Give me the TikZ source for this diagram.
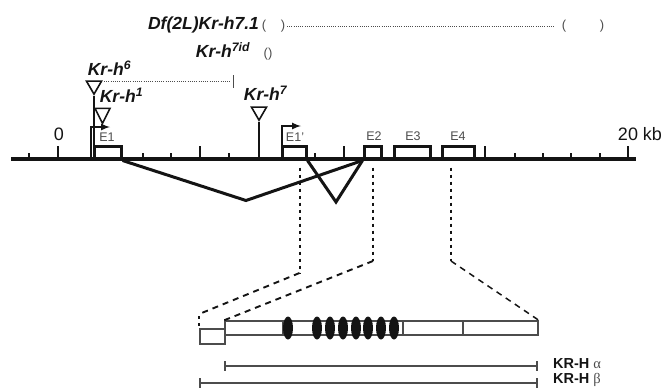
\documentclass[tikz,border=0pt]{standalone}
\usepackage{fontspec}
\setmainfont{Liberation Sans}
\newfontfamily\greekfont{Liberation Serif}
\usetikzlibrary{
    shapes.geometric,
    calc
}
\definecolor{inkblack}{gray}{0.08}
\definecolor{inkgray}{gray}{0.3}
\tikzstyle{exon} = [
    rectangle,
    draw=inkblack,
    line width=3pt,
    inner sep=0pt,
    minimum height=13pt
]
\tikzstyle{exonlabel} = [
    inner sep=0pt,
    text=inkgray,
    font=\fontsize{12.5}{13}\selectfont
]
\tikzstyle{allele} = [
    inner sep=0pt,
    text=inkblack,
    font=\fontsize{17.5}{18}\selectfont\bfseries\itshape
]
\tikzstyle{insertion} = [
    isosceles triangle,
    isosceles triangle stretches,
    shape border rotate=270,
    draw=inkblack,
    line width=1.6pt,
    inner sep=0pt,
    minimum width=15pt,
    minimum height=13pt
]
\tikzstyle{paren} = [
    inner sep=0pt,
    text=inkgray,
    font=\fontsize{13}{14}\selectfont
]
\tikzstyle{scalelabel} = [
    inner sep=0pt,
    text=inkblack,
    font=\fontsize{18}{19}\selectfont
]
\tikzstyle{splice} = [
    line width=3pt,
    draw=inkblack,
    line join=miter
]
\tikzstyle{zoomline} = [
    line width=2pt,
    draw=inkblack,
    dash pattern=on 3pt off 4pt
]
\tikzstyle{zoomslant} = [
    line width=1.9pt,
    draw=inkblack,
    dash pattern=on 6pt off 5pt
]
\tikzstyle{deletion} = [
    line width=1pt,
    draw=inkgray,
    dash pattern=on 1pt off 1.2pt
]
\tikzstyle{proteinbox} = [
    rectangle,
    draw=inkgray,
    fill=white,
    line width=1.5pt,
    inner sep=0pt
]
\tikzstyle{finger} = [
    ellipse,
    fill=inkblack,
    inner sep=0pt,
    minimum width=10pt,
    minimum height=23pt
]
\tikzstyle{isoform} = [
    line width=1.6pt,
    draw=inkgray,
    {|-|}
]
\tikzstyle{isolabel} = [
    anchor=west,
    inner sep=0pt,
    text=inkblack,
    font=\fontsize{14.5}{15}\selectfont\bfseries
]
\begin{document}
\begin{tikzpicture}[x=1pt, y=-1pt]
        \useasboundingbox (0,0) rectangle (663,388);

        % Deficiency and allele labels (top)
        \node[allele] (df) at (203.5,25) {Df(2L)Kr-h7.1};
        \node[paren] (dfa) at (264,26) {(};
        \node[paren] (dfb) at (283,26) {)};
        \node[paren] (dfc) at (564,26) {(};
        \node[paren] (dfd) at (602,26) {)};
        \draw[deletion] (dfb) ++(4,0) coordinate (dfstart) -- ($(dfc)+(-9,0)$);
        \node[allele] (idlabel) at (223,50) {Kr-h\textsuperscript{7id}};
        \node[paren] (idmark) at (268,54) {()};
        \node[allele] (h6label) at (109.5,68) {Kr-h\textsuperscript{6}};
        \node[allele] (h1label) at (121.5,95) {Kr-h\textsuperscript{1}};
        \node[allele] (h7label) at (265.5,93) {Kr-h\textsuperscript{7}};

        % Scale line
        \coordinate (linestart) at (11,159);
        \coordinate (lineend) at (636,159);
        \foreach \x in {29,143,171,229,315,515,543,571,600}
            \draw[line width=2pt, draw=inkblack] (\x,153) -- (\x,157);
        \foreach \x in {58,200,344,485,628}
            \draw[line width=2.2pt, draw=inkblack] (\x,146) -- (\x,158);
        \node[scalelabel] (zero) at (59,134) {0};
        \node[scalelabel] (kb) at (640,134) {20 kb};

        % Exons
        \node[exon, minimum width=27pt] (e1) at (107.5,152.5) {};
        \node[exon, minimum width=24pt] (e1p) at (294,152.5) {};
        \node[exon, minimum width=17pt] (e2) at (372.5,152.5) {};
        \node[exon, minimum width=36pt] (e3) at (412,152.5) {};
        \node[exon, minimum width=32pt] (e4) at (458,152.5) {};
        \draw[line width=3.4pt, draw=inkblack] (linestart) -- (lineend);
        \node[exonlabel] (e1label) at (107,137) {E1};
        \node[exonlabel] (e1plabel) at (295,137) {E1'};
        \node[exonlabel] (e2label) at (374,136.5) {E2};
        \node[exonlabel] (e3label) at (413,136.5) {E3};
        \node[exonlabel] (e4label) at (458,136.5) {E4};

        % Promoters
        \coordinate (p1foot) at (90.5,159);
        \coordinate (p1tip) at (110,127);
        \coordinate (p2foot) at (282,159);
        \coordinate (p2tip) at (301,126);
        \draw[line width=2pt, draw=inkblack, -latex] (p1foot) |- (p1tip);
        \draw[line width=2pt, draw=inkblack, -latex] (p2foot) |- (p2tip);

        % Insertions
        \node[insertion] (h6) at (94,85.5) {};
        \node[insertion, minimum height=15pt] (h1) at (102.5,113) {};
        \node[insertion] (h7) at (259,111.5) {};
        \coordinate (h6foot) at (94,159);
        \coordinate (h7foot) at (259,159);
        \draw[line width=2pt, draw=inkblack] (h6.apex) -- (h6foot);
        \draw[line width=2pt, draw=inkblack] (h7.apex) -- (h7foot);
        \coordinate (h6start) at (104,81);
        \coordinate (h6end) at (230,81);
        \draw[deletion] (h6start) -- (h6end);
        \draw[line width=0.7pt, draw=inkgray] (233,75) -- (233,88);

        % Splicing
        \coordinate (spliceA) at (246,200.5);
        \coordinate (spliceB) at (336,202);
        \draw[splice] (e1.south east) -- (spliceA) -- (e2.south west);
        \draw[splice] (e1p.south east) -- (spliceB) -- (e2.south west);

        % Protein
        \node[proteinbox, minimum width=25pt, minimum height=15pt] (extra) at (212.5,336.5) {};
        \node[proteinbox, minimum width=313pt, minimum height=14pt] (protein) at (381.5,328) {};
        \foreach \x in {283,403,463}
            \draw[line width=1.3pt, draw=inkgray] (\x,321) -- (\x,335);
        \foreach \x in {288,317,330,343,356,368,381,394}
            \node[finger] (finger\x) at (\x,328) {};

        % Zoom lines from exons to protein
        \coordinate (z1) at (299.5,273);
        \coordinate (z2) at (373,261);
        \coordinate (z4) at (451,261);
        \draw[zoomline] (e1p.south) ++(5.5,7) coordinate (z1top) -- (z1);
        \draw[zoomline] (e2.south) ++(0.5,7) coordinate (z2top) -- (z2);
        \draw[zoomline, line width=1.6pt] (e4.south) ++(-7,7) coordinate (z4top) -- (z4);
        \draw[zoomslant] (z1) -- (extra.north west |- 0,314);
        \draw[zoomline] (extra.north west |- 0,316) -- (extra.north west);
        \draw[zoomslant] (z2) -- (protein.north west);
        \draw[zoomslant, line width=1.5pt] (z4) -- (protein.north east);

        % Isoforms
        \coordinate (alphaend) at (538,366);
        \coordinate (betaend) at (538,383);
        \draw[isoform] (protein.west |- alphaend) -- (alphaend);
        \draw[isoform] (extra.west |- betaend) -- (betaend);
        \node[isolabel] (alpha) at (553,364) {KR-H {\greekfont\mdseries\color{inkgray} α}};
        \node[isolabel] (beta) at (553,380) {KR-H {\greekfont\mdseries\color{inkgray} β}};
    \end{tikzpicture}
\end{document}
